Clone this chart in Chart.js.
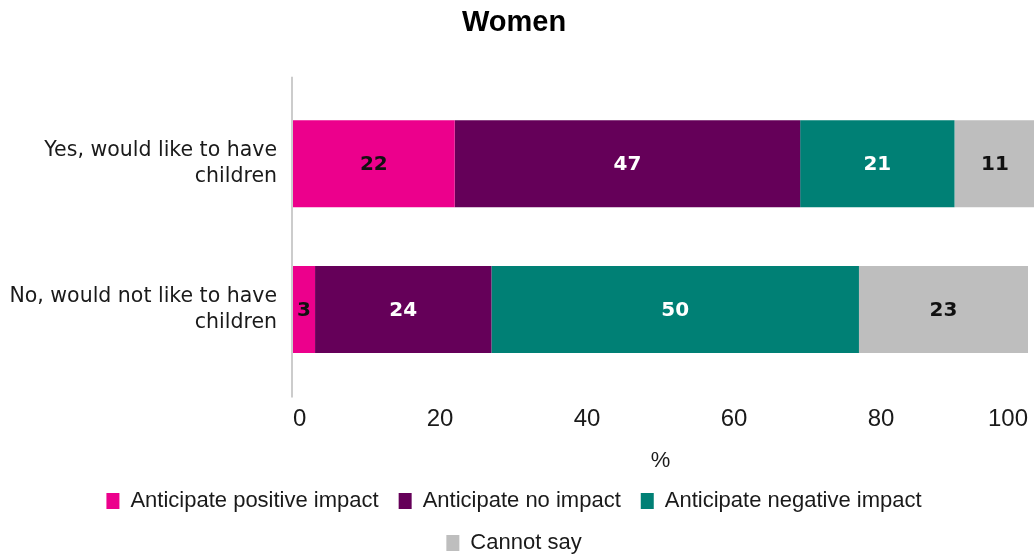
<!DOCTYPE html>
<html>
<head>
<meta charset="utf-8">
<script src="https://cdn.jsdelivr.net/npm/chart.js@4/dist/chart.umd.min.js"></script>
<style>
  html, body { margin: 0; padding: 0; background: #fff; }
  #wrap { width: 1034px; height: 554px; }
</style>
</head>
<body>
<div id="wrap"><canvas id="womenChart"></canvas></div>
<script>
const categories = [["Yes, would like to have", "children"], ["No, would not like to have", "children"]];
const seriesNames = ["Anticipate positive impact", "Anticipate no impact", "Anticipate negative impact", "Cannot say"];
const positiveImpact = [22, 3];
const noImpact = [47, 24];
const negativeImpact = [21, 50];
const cannotSay = [11, 23];
const xTicks = [0, 20, 40, 60, 80, 100];

const seriesColors = ['#ec008c', '#650059', '#008075', '#bebebe'];
const valueColors = ['#111111', '#ffffff', '#ffffff', '#111111'];

// numbers inside the bars
const barLabels = {
    id: 'barLabels',
    afterDatasetsDraw(chart) {
        const ctx = chart.ctx;
        ctx.save();
        ctx.font = 'bold 20px "DejaVu Sans"';
        ctx.textAlign = 'center';
        ctx.textBaseline = 'middle';
        chart.data.datasets.forEach((ds, i) => {
            chart.getDatasetMeta(i).data.forEach((bar, j) => {
                const p = bar.getCenterPoint();
                ctx.fillStyle = valueColors[i];
                ctx.fillText(ds.data[j], p.x, p.y + 1);
            });
        });
        ctx.restore();
    }
};

// grey axis line, a bit longer than the plot area
const axisLine = {
    id: 'axisLine',
    beforeDatasetsDraw(chart) {
        const {ctx, chartArea} = chart;
        ctx.save();
        ctx.strokeStyle = '#cccccc';
        ctx.lineWidth = 2;
        ctx.beginPath();
        ctx.moveTo(chartArea.left - 1, chartArea.top - 14);
        ctx.lineTo(chartArea.left - 1, chartArea.bottom + 15);
        ctx.stroke();
        ctx.restore();
    }
};

// force the legend onto two rows like the original
const legendWrap = {
    id: 'legendWrap',
    beforeLayout(chart) {
        const lg = chart.legend;
        if (lg && !lg._wrapped) {
            const up = lg.update.bind(lg);
            lg.update = (w, h, m) => up(Math.min(w, 940), h, m);
            lg._wrapped = true;
        }
    }
};

const datasets = [positiveImpact, noImpact, negativeImpact, cannotSay].map((vals, i) => ({
    label: seriesNames[i],
    data: vals,
    backgroundColor: seriesColors[i],
    borderWidth: 0,
    categoryPercentage: 1,
    barPercentage: 0.596,
    clip: false
}));

const womenChart = new Chart(document.getElementById('womenChart'), {
    type: 'bar',
    data: {
        labels: categories,
        datasets: datasets
    },
    options: {
        indexAxis: 'y',
        responsive: true,
        maintainAspectRatio: false,
        animation: false,
        layout: {
            padding: { left: 0, right: 6, top: 0, bottom: -10 }
        },
        scales: {
            x: {
                stacked: true,
                min: 0,
                max: 100,
                afterBuildTicks: (scale) => { scale.ticks = xTicks.map(v => ({ value: v })); },
                afterFit: (scale) => {
                    scale.height = 87.5;
                    scale.paddingLeft = 0;
                    scale.paddingRight = 0;
                },
                grid: { display: false, drawTicks: false },
                border: { display: false },
                ticks: {
                    align: 'inner',
                    padding: 22,
                    color: '#1a1a1a',
                    font: { family: '"Liberation Sans", Arial, sans-serif', size: 24 }
                },
                title: {
                    display: true,
                    text: '%',
                    color: '#1a1a1a',
                    padding: { top: 10, bottom: -4 },
                    font: { family: '"Liberation Sans", Arial, sans-serif', size: 22 }
                }
            },
            y: {
                stacked: true,
                afterFit: (scale) => { scale.width = 293; },
                grid: { display: false, drawTicks: false },
                border: { display: false },
                ticks: {
                    padding: 16,
                    color: '#1a1a1a',
                    font: { family: '"DejaVu Sans", sans-serif', size: 20.5, lineHeight: 1.25 }
                }
            }
        },
        plugins: {
            title: {
                display: true,
                text: 'Women',
                color: '#000000',
                padding: { top: 6, bottom: 50 },
                font: { family: '"Liberation Sans", Arial, sans-serif', size: 29, weight: 'bold' }
            },
            legend: {
                position: 'bottom',
                labels: {
                    boxWidth: 13,
                    boxHeight: 16,
                    padding: 20,
                    color: '#1a1a1a',
                    font: { family: '"Liberation Sans", Arial, sans-serif', size: 22 }
                }
            },
            tooltip: { enabled: false }
        }
    },
    plugins: [barLabels, axisLine, legendWrap]
});
</script>
</body>
</html>
